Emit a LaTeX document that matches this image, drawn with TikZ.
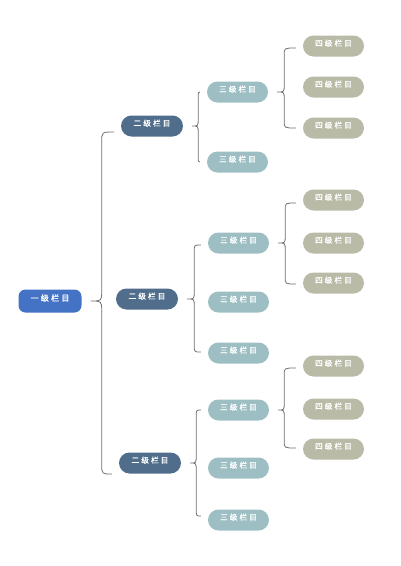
\documentclass[tikz,border=0pt]{standalone}
\usepackage{fontspec}
\setmainfont{Noto Sans CJK SC}
\newfontfamily\cjk[LetterSpace=28,FakeBold=1.2]{Noto Sans CJK SC}
\usetikzlibrary{calc}
\definecolor{rootc}{HTML}{4472C4}
\definecolor{lvtwo}{HTML}{506E8C}
\definecolor{lvthree}{HTML}{9DBFC4}
\definecolor{lvfour}{HTML}{B9BBA7}
\definecolor{bracec}{HTML}{707070}
\newcommand{\mybrace}[7]{%
  % #1 parent, #2 top child, #3 bottom child, #4 top dy, #5 bottom dy, #6 vertical offset, #7 radius
  \draw[bracel] let \p1=($(#1.east)+(9,0)$), \p2=($(#2.west)+(-7,#4)$), \p3=($(#3.west)+(-7,#5)$) in
    (\x2,\y2) .. controls (\x1+#6pt,\y2) .. (\x1+#6pt,\y2-#7pt)
    -- (\x1+#6pt,\y1+#7pt) .. controls (\x1+#6pt,\y1) .. (\x1,\y1)
    .. controls (\x1+#6pt,\y1) .. (\x1+#6pt,\y1-#7pt)
    -- (\x1+#6pt,\y3+#7pt) .. controls (\x1+#6pt,\y3) .. (\x3,\y3);
}
\begin{document}
\begin{tikzpicture}[x=1pt,y=-1pt,
  box/.style={text=white, font=\cjk\fontsize{7.6}{8}\selectfont,
    minimum width=61pt, minimum height=21pt, inner sep=0pt,
    rounded corners=10.5pt, text height=6pt, text depth=6pt},
  rootbox/.style={box, fill=rootc, minimum width=63pt, minimum height=23pt,
    rounded corners=7pt, font=\cjk\fontsize{8}{9}\selectfont},
  twobox/.style={box, fill=lvtwo, minimum width=62pt},
  threebox/.style={box, fill=lvthree},
  fourbox/.style={box, fill=lvfour},
  bracel/.style={draw=bracec, line width=0.8pt}]
\useasboundingbox (0,0) rectangle (400,566);
\fill[white] (0,0) rectangle (400,566);

\node[rootbox] (root) at (50,301) {一级栏目};

\node[twobox] (b1) at (152,126) {二级栏目};
\node[twobox] (b2) at (147,299) {二级栏目};
\node[twobox] (b3) at (150,463) {二级栏目};

\node[threebox] (c11) at (237.5,92) {三级栏目};
\node[threebox] (c12) at (237.5,162) {三级栏目};
\node[threebox] (c21) at (238.5,243) {三级栏目};
\node[threebox] (c22) at (238.5,302) {三级栏目};
\node[threebox] (c23) at (238.5,353) {三级栏目};
\node[threebox] (c31) at (238.5,410) {三级栏目};
\node[threebox] (c32) at (238.5,468) {三级栏目};
\node[threebox] (c33) at (238.5,520) {三级栏目};

\node[fourbox] (d11) at (333.5,46) {四级栏目};
\node[fourbox] (d12) at (333.5,87) {四级栏目};
\node[fourbox] (d13) at (333.5,128) {四级栏目};
\node[fourbox] (d21) at (333.5,200) {四级栏目};
\node[fourbox] (d22) at (333.5,243) {四级栏目};
\node[fourbox] (d23) at (333.5,283) {四级栏目};
\node[fourbox] (d31) at (333.5,366) {四级栏目};
\node[fourbox] (d32) at (333.5,409) {四级栏目};
\node[fourbox] (d33) at (333.5,449) {四级栏目};

\mybrace{root}{b1}{b3}{6}{11}{11}{10}
\mybrace{b1}{c11}{c12}{0}{0}{6}{7}
\mybrace{b2}{c21}{c23}{2}{-1}{7}{7}
\mybrace{b3}{c31}{c33}{0}{-4}{6}{7}
\mybrace{c11}{d11}{d13}{2}{0}{7}{7}
\mybrace{c21}{d21}{d23}{3}{1}{7}{7}
\mybrace{c31}{d31}{d33}{2}{-1}{6}{7}
\end{tikzpicture}
\end{document}
